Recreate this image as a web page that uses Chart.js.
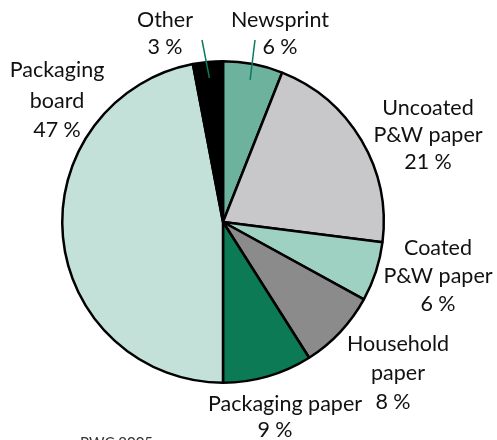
<!DOCTYPE html>
<html lang="en">
<head>
    <meta charset="UTF-8">
    <title>Paper production by grade</title>
    <script src="https://cdn.jsdelivr.net/npm/chart.js"></script>
    <style>
        body {
            margin: 0;
            background: #fff;
        }
        #wrap {
            width: 497px;
            height: 440px;
            position: relative;
        }
    </style>
</head>
<body>
    <div id="wrap">
        <canvas id="pieChart" width="497" height="440"></canvas>
    </div>

    <script>
        // Data
        const grades = ['Newsprint', 'Uncoated P&W paper', 'Coated P&W paper', 'Household paper',
            'Packaging paper', 'Packaging board', 'Other'];
        const shares = [6, 21, 6, 8, 9, 47, 3];
        const sliceColors = ['#6cb29c', '#c8c8ca', '#9ed1c1', '#8b8b8b', '#0b7a55', '#c3e1d9', '#000000'];

        // label text lines and where they sit relative to the pie centre
        const labelLines = [
            [['Newsprint', 57, -202], ['6 %', 57, -175]],
            [['Uncoated', 205, -114], ['P&W paper', 205, -87], ['21 %', 205, -60]],
            [['Coated', 215, 26], ['P&W paper', 215, 54], ['6 %', 215, 82]],
            [['Household', 175, 122], ['paper', 175, 151], ['8 %', 170, 180]],
            [['Packaging paper', 62, 182], ['9 %', 52, 208]],
            [['Packaging', -166, -152], ['board', -166, -121], ['47 %', -166, -92]],
            [['Other', -58, -202], ['3 %', -58, -175]]
        ];
        // leader line ends (only for the small top slices)
        const leaderEnds = {0: [32, -182], 6: [-21, -182]};

        const labelPlugin = {
            id: 'labels',
            afterDraw(chart) {
                const ctx = chart.ctx;
                const meta = chart.getDatasetMeta(0);
                const arc0 = meta.data[0];
                const cx = arc0.x, cy = arc0.y;
                ctx.save();

                // leader lines
                ctx.strokeStyle = '#0b7a60';
                ctx.lineWidth = 1.5;
                Object.keys(leaderEnds).forEach(k => {
                    const arc = meta.data[k];
                    const mid = (arc.startAngle + arc.endAngle) / 2;
                    const r = arc.outerRadius * 0.9;
                    ctx.beginPath();
                    ctx.moveTo(cx + Math.cos(mid) * r, cy + Math.sin(mid) * r);
                    ctx.lineTo(cx + leaderEnds[k][0], cy + leaderEnds[k][1]);
                    ctx.stroke();
                });

                // text
                ctx.fillStyle = '#111';
                ctx.font = '21.5px Lato';
                ctx.textAlign = 'center';
                ctx.textBaseline = 'middle';
                labelLines.forEach(lines => {
                    lines.forEach(l => ctx.fillText(l[0], cx + l[1], cy + l[2]));
                });

                ctx.font = '15px Lato';
                ctx.fillStyle = '#333';
                ctx.textAlign = 'left';
                ctx.textBaseline = 'top';
                ctx.fillText('PWC 2005', 80, 436);
                ctx.restore();
            }
        };

        new Chart(document.getElementById('pieChart'), {
            type: 'pie',
            data: {
                labels: grades,
                datasets: [{
                    data: shares,
                    backgroundColor: sliceColors,
                    borderColor: '#000',
                    borderWidth: 2.5,
                    hoverOffset: 0
                }]
            },
            options: {
                responsive: false,
                animation: false,
                layout: {
                    padding: {left: 61, right: 112, top: 60, bottom: 56}
                },
                plugins: {
                    legend: {display: false},
                    tooltip: {enabled: false}
                }
            },
            plugins: [labelPlugin]
        });
    </script>
</body>
</html>
